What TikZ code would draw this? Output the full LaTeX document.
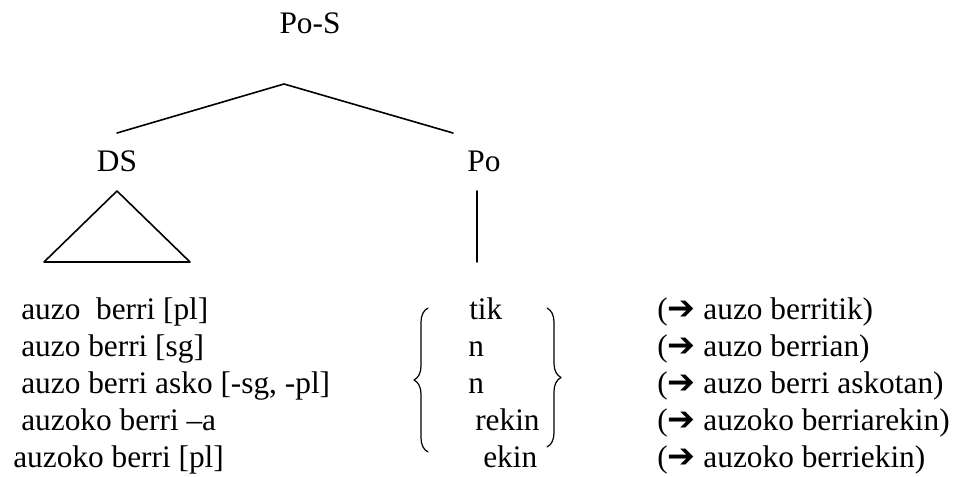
\documentclass[tikz,border=0pt]{standalone}
\usepackage{fontspec}
\setmainfont{Liberation Serif}
\newfontfamily\dejavu{DejaVu Sans}
\usetikzlibrary{decorations.pathreplacing}
\newcommand{\goes}{{\dejavu\fontsize{25pt}{25pt}\selectfont ➔}}

\begin{document}
\begin{tikzpicture}[x=0.75pt,y=-0.75pt,line cap=round,line join=round,
  every node/.style={inner sep=0pt,font=\fontsize{23.5pt}{28pt}\selectfont},
  branch/.style={line width=1.2pt},
  curly/.style={line width=0.9pt,decorate,decoration={brace,amplitude=10.5pt}}]
  \useasboundingbox (0,0) rectangle (963,477);
  % Baum
  \node[anchor=base] (pos) at (310,34) {Po-S};
  \node[anchor=base] (ds) at (117,172) {DS};
  \node[anchor=base] (po) at (484,172) {Po};
  \coordinate (apex) at (284,84);
  \coordinate (dsarm) at (117,133);
  \coordinate (poarm) at (453,133);
  \draw[branch] (dsarm) -- (apex) -- (poarm);
  % Dreieck unter DS
  \draw[branch] (117,191) -- (44,262) -- (190,262) -- cycle;
  % Strich unter Po
  \coordinate (stemtop) at (477,191);
  \coordinate (stembot) at (477,262);
  \draw[branch] (stemtop) -- (stembot);
  % Zeilen
  \foreach \phr/\xp/\suf/\xs/\res [count=\i] in {%
    {auzo\ \ berri [pl]}/21/tik/469/{auzo berritik},%
    {auzo berri [sg]}/21/n/468/{auzo berrian},%
    {auzo berri asko [-sg, -pl]}/21/n/468/{auzo berri askotan},%
    {auzoko berri –a}/21/rekin/475/{auzoko berriarekin},%
    {auzoko berri [pl]}/13/ekin/483/{auzoko berriekin}%
  } {
    \node[anchor=base west] (l\i) at (\xp,{282+37*\i}) {\phr};
    \node[anchor=base west] (m\i) at (\xs,{282+37*\i}) {\suf};
    \node[anchor=base west] (r\i) at (657,{282+37*\i}) {(\goes\ \res)};
  }
  % Klammern
  \draw[curly] (428,452) -- (428,308);
  \draw[curly] (547,308) -- (547,447);
\end{tikzpicture}
\end{document}
